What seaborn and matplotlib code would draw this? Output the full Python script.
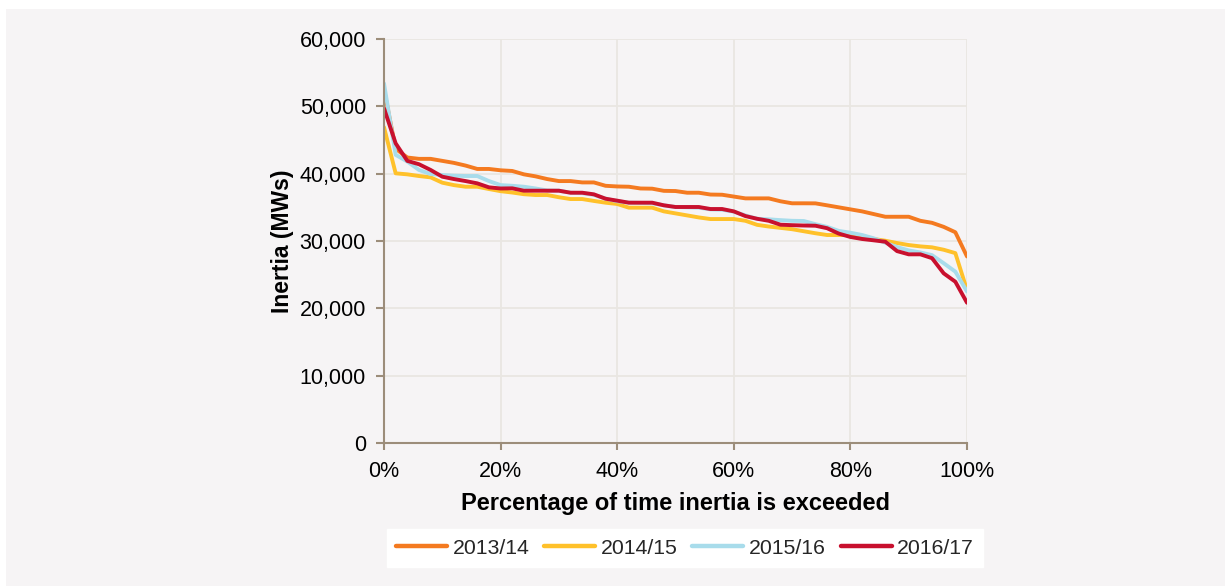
import matplotlib
matplotlib.use("Agg")
import matplotlib.pyplot as plt
import seaborn as sns
import pandas as pd
import numpy as np
from matplotlib.patches import Rectangle
from matplotlib.lines import Line2D

pct = list(range(0, 101, 2))

s2013 = [52500, 43700, 42400, 42200, 42200, 41900, 41600, 41200, 40700, 40700,
         40500, 40400, 39900, 39600, 39200, 38900, 38900, 38700, 38700, 38200,
         38100, 38060, 37800, 37770, 37450, 37420, 37170, 37170, 36900, 36870,
         36600, 36330, 36330, 36330, 35900, 35600, 35600, 35590, 35300, 35000,
         34700, 34400, 34000, 33600, 33600, 33600, 33000, 32700, 32100, 31300,
         27700]
s2014 = [46900, 40050, 39900, 39650, 39450, 38660, 38300, 38060, 38060, 37720,
         37400, 37200, 36950, 36830, 36830, 36500, 36230, 36230, 35950, 35690,
         35500, 34950, 34950, 34950, 34400, 34100, 33800, 33500, 33260, 33260,
         33260, 33000, 32400, 32150, 31950, 31750, 31450, 31150, 30890, 30890,
         30890, 30640, 30300, 30040, 29700, 29400, 29200, 29060, 28700, 28200,
         22700]
s2015 = [53400, 42800, 41800, 40550, 39950, 39800, 39700, 39650, 39650, 38900,
         38300, 38200, 38060, 37800, 37500, 37470, 37170, 37100, 36850, 36300,
         35900, 35700, 35650, 35600, 35300, 35050, 35000, 34950, 34700, 34650,
         34350, 33800, 33300, 33220, 33100, 33000, 32970, 32500, 32100, 31500,
         31230, 30890, 30400, 29740, 29100, 28600, 28300, 27900, 26700, 25450,
         22500]
s2016 = [49700, 44500, 41900, 41400, 40550, 39550, 39200, 38900, 38560, 37970,
         37800, 37820, 37470, 37470, 37470, 37470, 37170, 37170, 36930, 36280,
         35990, 35690, 35690, 35690, 35300, 35050, 35050, 35050, 34750, 34750,
         34400, 33700, 33300, 33000, 32420, 32350, 32300, 32270, 31900, 31100,
         30600, 30300, 30100, 29890, 28500, 28020, 28020, 27450, 25200, 23950,
         20830]

series_names = ["2013/14", "2014/15", "2015/16", "2016/17"]
colors = ["#F47A20", "#FFC12A", "#A8DCEB", "#C8102E"]
xtick_vals = [0, 20, 40, 60, 80, 100]
xtick_labels = ["0%", "20%", "40%", "60%", "80%", "100%"]
ytick_vals = [0, 10000, 20000, 30000, 40000, 50000, 60000]
ytick_labels = ["0", "10,000", "20,000", "30,000", "40,000", "50,000", "60,000"]

frames = []
for name, vals in zip(series_names, [s2013, s2014, s2015, s2016]):
    frames.append(pd.DataFrame({"pct": pct, "inertia": vals, "year": name}))
df = pd.concat(frames, ignore_index=True)

sns.set_theme(style="white")
plt.rcParams["font.family"] = ["Liberation Sans", "DejaVu Sans"]

W, H = 1225, 586
fig = plt.figure(figsize=(W / 100, H / 100), dpi=100)
fig.patch.set_facecolor("white")
panel_col = "#F6F4F5"
panel = Rectangle((6 / W, 0), 1 - 6 / W, 1 - 9 / H, transform=fig.transFigure,
                  facecolor=panel_col, edgecolor="none", zorder=-10)
fig.add_artist(panel)

ax = fig.add_axes([384 / W, 1 - 443 / H, (967 - 384) / W, (443 - 39) / H])
ax.set_facecolor(panel_col)

sns.lineplot(data=df, x="pct", y="inertia", hue="year", palette=colors,
             hue_order=series_names, linewidth=2.8, ax=ax, legend=False)

ax.set_xlim(0, 100)
ax.set_ylim(0, 60000)
ax.set_xticks(xtick_vals)
ax.set_xticklabels(xtick_labels, fontsize=15.5)
ax.set_yticks(ytick_vals)
ax.set_yticklabels(ytick_labels, fontsize=15.5)

grid_col = "#E9E6E2"
ax.grid(True, color=grid_col, linewidth=1.3)
ax.set_axisbelow(True)

spine_col = "#9C8D7A"
for side in ["top", "right"]:
    ax.spines[side].set_visible(False)
for side in ["left", "bottom"]:
    ax.spines[side].set_color(spine_col)
    ax.spines[side].set_linewidth(1.5)
ax.tick_params(axis="y", direction="out", length=6, width=1.5, color=spine_col, pad=7,
               left=True, labelcolor="black")
ax.tick_params(axis="x", direction="out", length=5, width=1.5, color=spine_col, pad=8,
               bottom=True, labelcolor="black")

ax.set_xlabel("Percentage of time inertia is exceeded", fontsize=17, fontweight="bold",
              color="black", labelpad=7)
ax.set_ylabel("Inertia (MWs)", fontsize=16.5, fontweight="bold", color="black", labelpad=4)

handles = [Line2D([0], [0], color=c, linewidth=3.2) for c in colors]
leg = fig.legend(handles, series_names, loc="center", bbox_to_anchor=(685 / W, 1 - 548 / H),
                 ncol=4, frameon=True, fancybox=False, fontsize=15.3, handlelength=2.4,
                 columnspacing=0.7, handletextpad=0.25, borderpad=0.45)
leg.get_frame().set_facecolor("white")
leg.get_frame().set_edgecolor("white")
leg.get_frame().set_alpha(1)

fig.savefig("out.png", dpi=100, facecolor=fig.get_facecolor())
